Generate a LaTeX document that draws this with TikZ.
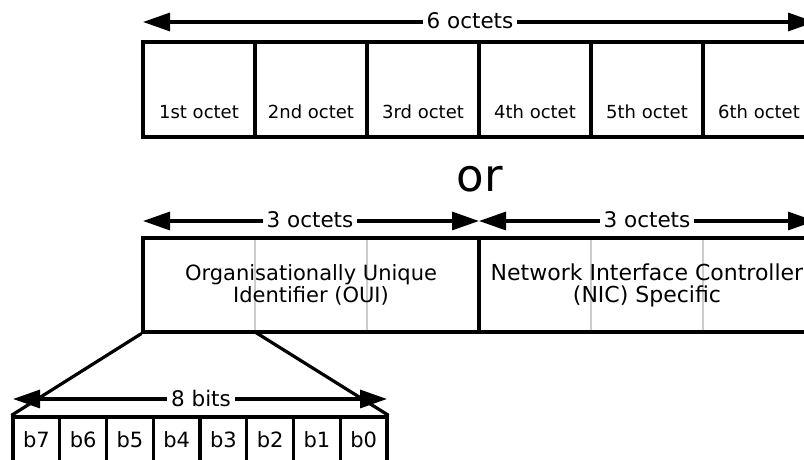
\documentclass[tikz,border=0pt]{standalone}
\usepackage{fontspec}
\setmainfont{DejaVu Sans}
\usetikzlibrary{arrows.meta}
\begin{document}
\begin{tikzpicture}[x=1pt,y=-1pt,
  box/.style={draw=black,line width=3.2pt,minimum width=112pt,minimum height=95pt,inner sep=0pt},
  wide/.style={draw=black,line width=3.2pt,minimum width=336pt,minimum height=94pt,inner sep=0pt,align=center,font=\fontsize{21}{22}\selectfont},
  bitcell/.style={draw=black,line width=3.2pt,minimum width=46.75pt,minimum height=70pt,inner sep=0pt},
  octlbl/.style={font=\fontsize{18}{20}\selectfont,inner sep=0pt},
  bitlbl/.style={font=\fontsize{21}{22}\selectfont,inner sep=0pt},
  dimlbl/.style={fill=white,inner xsep=4pt,inner ysep=1pt,font=\fontsize{21.5}{23}\selectfont},
  dim/.style={line width=3.2pt,{Triangle[length=27pt,width=18pt]}-{Triangle[length=27pt,width=18pt]}},
  faint/.style={draw=black!20,line width=2.4pt},
  fan/.style={line width=3.2pt}]
\useasboundingbox (0,0) rectangle (804,460);
\clip (0,0) rectangle (804,460);

% six octets
\foreach \i/\t in {1/1st,2/2nd,3/3rd,4/4th,5/5th,6/6th}{
  \node[box] (o\i) at ({143+112*(\i-0.5)},89.5) {};
  \node[octlbl] (ot\i) at ({143+112*(\i-0.5)},112) {\t\ octet};
}
\coordinate (a6l) at (143,22);
\coordinate (a6r) at (815,22);
\draw[dim] (a6l) -- (a6r);
\node[dimlbl] (l6) at (470,21) {6 octets};

% or
\node[font=\fontsize{45}{48}\selectfont,inner sep=0pt] (or) at (480,179) {or};

% OUI and NIC
\foreach \x in {255,367,591,703}{
  \coordinate (gt\x) at (\x,238);
  \coordinate (gb\x) at (\x,332);
  \draw[faint] (gt\x) -- (gb\x);
}
\node[wide] (oui) at (311,285) {Organisationally Unique\\Identifier (OUI)};
\node[wide,font=\fontsize{22}{22}\selectfont] (nic) at (647,285) {Network Interface Controller\\(NIC) Specific};

\coordinate (a3l) at (143,221);
\coordinate (a3m) at (479,221);
\coordinate (a3r) at (815,221);
\draw[dim] (a3l) -- (a3m);
\draw[dim] (a3m) -- (a3r);
\node[dimlbl] (l3a) at (310,220) {3 octets};
\node[dimlbl] (l3b) at (647,220) {3 octets};

% bits of the first octet
\foreach \i/\t in {1/b7,2/b6,3/b5,4/b4,5/b3,6/b2,7/b1,8/b0}{
  \node[bitcell] (b\i) at ({13+46.75*(\i-0.5)},452) {};
  \node[bitlbl] (bt\i) at ({13+46.75*(\i-0.5)},440) {\t};
}
\draw[fan] (oui.south west) -- (b1.north west);
\coordinate (o1se) at (255,332);
\draw[fan] (o1se) -- (b8.north east);

\coordinate (a8l) at (13,399);
\coordinate (a8r) at (387,399);
\draw[dim] (a8l) -- (a8r);
\node[dimlbl] (l8) at (201,398) {8 bits};
\end{tikzpicture}
\end{document}
